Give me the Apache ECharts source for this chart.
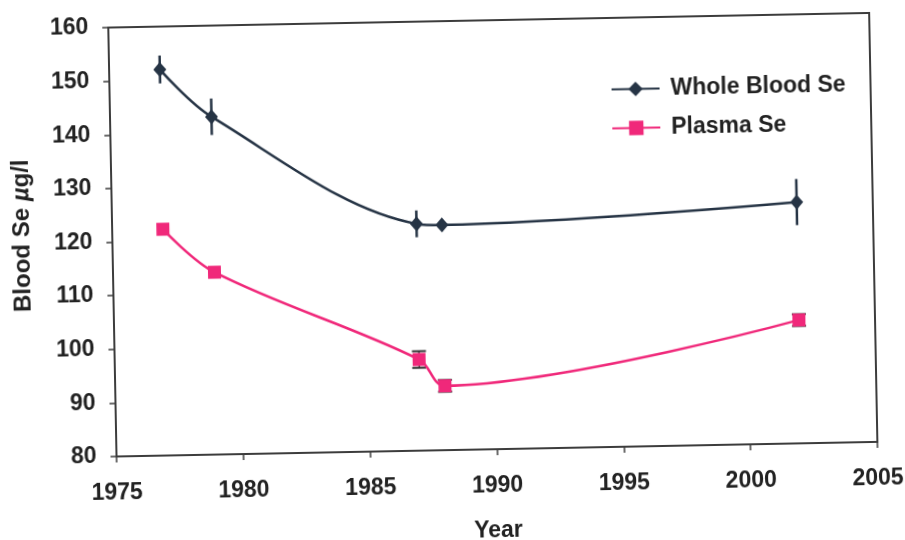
<!DOCTYPE html>
<html>
<head>
<meta charset="utf-8">
<script src="https://cdn.jsdelivr.net/npm/echarts@6/dist/echarts.min.js"></script>
<style>
  html, body { margin: 0; padding: 0; background: #fff; overflow: hidden; }
  #chart { width: 905px; height: 540px; transform: rotate(-1.1deg); transform-origin: 452.5px 270px; }
</style>
</head>
<body>
<div id="chart"></div>
<script>
// Survey years and mean selenium concentrations (µg/l)
const years = [1977, 1979, 1987, 1988, 2002];
const wholeBlood = [152, 143, 122.3, 122, 125];
const wholeBloodErr = [2.6, 3.4, 2.5, 1, 4.3];
const plasma = [122.2, 114, 97, 92, 103];
const plasmaErr = [0, 0, 1.55, 1.1, 1.1];

const xTicks = [1975, 1980, 1985, 1990, 1995, 2000, 2005];
const yTicks = [80, 90, 100, 110, 120, 130, 140, 150, 160];

const darkColor = '#263445';
const pinkColor = '#f0287a';
const axisColor = '#3c3c3c';
const textColor = '#222';
const fontFamily = '"Liberation Sans", Arial, sans-serif';

function pairs(vals) { return years.map((y, i) => [y, vals[i]]); }
function ranges(vals, errs) { return years.map((y, i) => [y, vals[i] - errs[i], vals[i] + errs[i], errs[i]]); }

function errorRenderer(color, capWidth, lineWidth) {
  return function (params, api) {
    if (api.value(3) <= 0) return null;
    const x = api.value(0);
    const top = api.coord([x, api.value(2)]);
    const bot = api.coord([x, api.value(1)]);
    const children = [{
      type: 'line',
      shape: { x1: top[0], y1: top[1], x2: bot[0], y2: bot[1] },
      style: { stroke: color, lineWidth: lineWidth }
    }];
    if (capWidth > 0) {
      [top, bot].forEach(p => children.push({
        type: 'line',
        shape: { x1: p[0] - capWidth / 2, y1: p[1], x2: p[0] + capWidth / 2, y2: p[1] },
        style: { stroke: color, lineWidth: 2 }
      }));
    }
    return { type: 'group', children: children };
  };
}

const chart = echarts.init(document.getElementById('chart'), null, { renderer: 'canvas' });
chart.setOption({
  backgroundColor: '#fff',
  animation: false,
  grid: {
    left: 113, right: 31, top: 21, bottom: 90,
    outerBoundsMode: 'none', containLabel: false,
    show: true, borderColor: axisColor, borderWidth: 2, backgroundColor: 'transparent'
  },
  legend: {
    orient: 'vertical',
    left: 609, top: 76,
    itemWidth: 48, itemHeight: 18, itemGap: 16,
    data: ['Whole Blood Se', 'Plasma Se'],
    textStyle: { fontFamily: fontFamily, fontWeight: 'bold', fontSize: 23, color: textColor, padding: [0, 0, 0, 6] }
  },
  xAxis: {
    type: 'value',
    min: xTicks[0], max: xTicks[xTicks.length - 1], interval: 5,
    name: 'Year', nameLocation: 'middle', nameGap: 70,
    nameTextStyle: { fontFamily: fontFamily, fontWeight: 'bold', fontSize: 23, color: textColor },
    axisLine: { show: true, lineStyle: { color: axisColor, width: 2 } },
    axisTick: { show: true, inside: false, length: 6, lineStyle: { color: axisColor, width: 1.5 } },
    axisLabel: {
      margin: 25, fontFamily: fontFamily, fontWeight: 'bold', fontSize: 23, color: textColor,
      formatter: v => String(v)
    },
    splitLine: { show: false }
  },
  yAxis: {
    type: 'value',
    min: yTicks[0], max: yTicks[yTicks.length - 1], interval: 10,
    name: '{a|Blood Se }{b|µ}{a|g/l}', nameLocation: 'middle', nameGap: 78,
    nameTextStyle: {
      padding: [0, 0, 0, 16],
      rich: {
        a: { fontFamily: fontFamily, fontWeight: 'bold', fontSize: 24, color: textColor },
        b: { fontFamily: fontFamily, fontWeight: 'bold', fontStyle: 'italic', fontSize: 24, color: textColor }
      }
    },
    axisLine: { show: true, lineStyle: { color: axisColor, width: 2 } },
    axisTick: { show: true, inside: false, length: 6, lineStyle: { color: axisColor, width: 1.5 } },
    axisLabel: {
      margin: 20, fontFamily: fontFamily, fontWeight: 'bold', fontSize: 23, color: textColor,
      formatter: v => String(v)
    },
    splitLine: { show: false }
  },
  series: [
    {
      name: 'Whole Blood Se',
      type: 'line',
      data: pairs(wholeBlood),
      smooth: 0.35,
      symbol: 'diamond', symbolSize: [13, 15],
      lineStyle: { color: darkColor, width: 2.5 },
      itemStyle: { color: darkColor },
      z: 3
    },
    {
      name: 'Plasma Se',
      type: 'line',
      data: pairs(plasma),
      smooth: 0.35,
      symbol: 'rect', symbolSize: 13,
      lineStyle: { color: pinkColor, width: 2.5 },
      itemStyle: { color: pinkColor },
      z: 3
    },
    {
      type: 'custom',
      name: 'wbErr',
      data: ranges(wholeBlood, wholeBloodErr),
      encode: { x: 0, y: [1, 2] },
      renderItem: errorRenderer(darkColor, 0, 2.5),
      z: 4, silent: true
    },
    {
      type: 'custom',
      name: 'plErr',
      data: ranges(plasma, plasmaErr),
      encode: { x: 0, y: [1, 2] },
      renderItem: errorRenderer('#333', 14, 1.5),
      z: 2, silent: true
    }
  ]
});
</script>
</body>
</html>
